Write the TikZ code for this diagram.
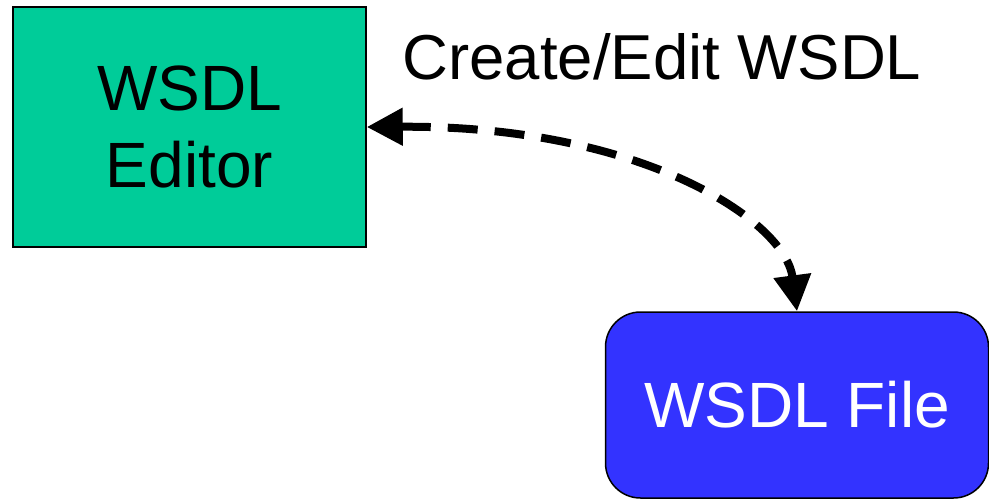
\documentclass[tikz,border=0pt]{standalone}
\usepackage{fontspec}
\setmainfont{Liberation Sans}
\usetikzlibrary{arrows.meta}
\definecolor{edgreen}{HTML}{00CC99}
\definecolor{fileblue}{HTML}{3333FF}
\tikzset{
  boxbase/.style={draw=black, line width=1.5pt, inner sep=0pt, align=center,
    font=\fontsize{64}{77}\selectfont},
  editorbox/.style={boxbase, fill=edgreen, minimum width=353pt, minimum height=240pt},
  filebox/.style={boxbase, fill=fileblue, text=white, rounded corners=35pt,
    minimum width=383pt, minimum height=186pt},
  link/.style={line width=8pt, dash pattern=on 30pt off 17pt,
    {Triangle[length=36pt,width=36pt]}-{Triangle[length=36pt,width=36pt]}},
  lbl/.style={font=\fontsize{63.5}{70}\selectfont, inner sep=0pt}
}
\begin{document}
\begin{tikzpicture}[x=1pt,y=-1pt]
\useasboundingbox (0,0) rectangle (989,499);
\node[editorbox] (ed) at (189.5,127) {WSDL\\Editor};
\node[filebox] (fi) at (797,405) {WSDL File};
\node[lbl] (lab) at (662,57) {Create/Edit WSDL};
\draw[link] (ed.east) .. controls (640,125) and (785,220) .. (fi.north);
\end{tikzpicture}
\end{document}
